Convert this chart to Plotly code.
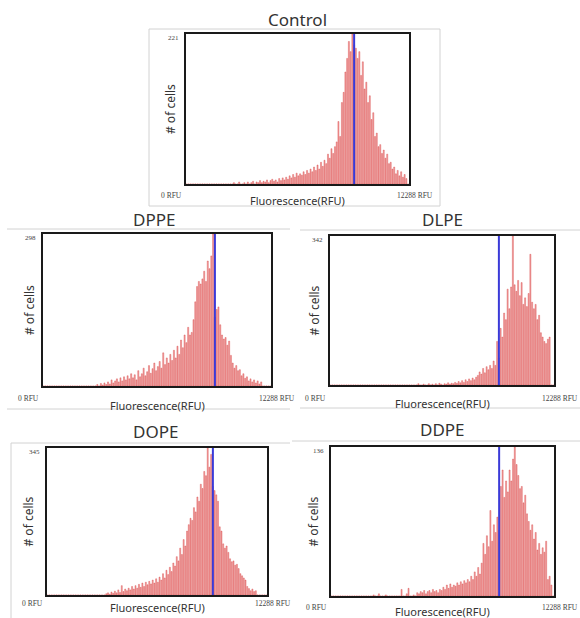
import plotly.graph_objects as go

# Flow-cytometry fluorescence histograms, 128 bins spanning 0-12288 RFU
RFU_MAX = 12288
N_BINS = 128
BIN_WIDTH = RFU_MAX / N_BINS
GATE_RFU = 9265

panel_names = ["Control", "DPPE", "DLPE", "DOPE", "DDPE"]
y_max = [221, 298, 342, 345, 136]
x_tick_labels = ["0 RFU", "12288 RFU"]

control = [
    0, 0, 0, 0, 0, 0, 0, 0, 0, 0, 0, 0, 0, 0, 0, 0,
    0, 0, 0, 0, 0, 0, 0, 0, 0, 0, 0, 2, 0, 0, 3, 0,
    0, 2, 0, 3, 0, 2, 4, 0, 3, 2, 5, 2, 4, 3, 6, 2,
    5, 7, 4, 6, 3, 8, 5, 9, 6, 10, 7, 12, 9, 14, 10, 16,
    12, 15, 13, 18, 14, 20, 16, 22, 18, 25, 20, 28, 22, 32, 26, 35,
    30, 44, 38, 52, 45, 55, 62, 92, 70, 120, 135, 165, 185, 210, 195, 221,
    205, 200, 185, 195, 160, 180, 140, 150, 120, 130, 95, 105, 70, 75, 55, 58,
    45, 50, 38, 44, 30, 32, 22, 25, 15, 20, 12, 18, 10, 14, 8, 0,
]
dppe = [
    0, 0, 0, 0, 0, 0, 0, 0, 0, 0, 0, 0, 0, 0, 0, 0,
    0, 0, 0, 0, 0, 0, 0, 0, 0, 0, 0, 0, 0, 0, 3, 0,
    5, 2, 6, 3, 8, 4, 12, 6, 10, 14, 8, 16, 10, 18, 12, 20,
    14, 24, 16, 22, 12, 30, 18, 24, 35, 20, 28, 40, 25, 34, 45, 30,
    38, 48, 35, 65, 42, 55, 45, 62, 50, 70, 55, 78, 62, 90, 75, 100,
    85, 115, 100, 105, 130, 165, 195, 205, 200, 210, 225, 205, 245, 230, 255, 298,
    135, 150, 155, 120, 100, 92, 95, 80, 88, 60, 45, 35, 40, 30, 32, 20,
    24, 15, 18, 10, 14, 8, 12, 6, 10, 4, 8, 0, 0, 0, 0, 0,
]
dlpe = [
    0, 0, 0, 0, 0, 0, 0, 0, 0, 0, 0, 0, 0, 0, 0, 0,
    0, 0, 0, 0, 0, 0, 0, 0, 0, 0, 0, 0, 0, 0, 0, 0,
    0, 0, 0, 0, 0, 0, 0, 0, 0, 0, 0, 0, 0, 0, 0, 0,
    0, 0, 3, 0, 0, 2, 0, 0, 3, 0, 2, 0, 3, 0, 4, 2,
    0, 3, 2, 5, 2, 4, 3, 6, 4, 8, 5, 10, 6, 12, 8, 14,
    10, 16, 12, 18, 22, 30, 25, 38, 28, 42, 35, 45, 38, 55, 45, 100,
    62, 130, 110, 165, 150, 220, 175, 225, 342, 230, 215, 240, 205, 235, 185, 200,
    180, 210, 300, 190, 175, 185, 150, 160, 120, 110, 100, 95, 105, 110, 0, 0,
]
dope = [
    0, 0, 0, 0, 0, 0, 0, 0, 0, 0, 0, 0, 0, 0, 0, 0,
    0, 0, 0, 0, 0, 0, 0, 0, 0, 0, 0, 0, 0, 0, 0, 0,
    0, 0, 3, 5, 2, 7, 4, 9, 5, 12, 6, 22, 8, 14, 10, 16,
    12, 20, 14, 22, 16, 25, 18, 28, 20, 30, 24, 32, 26, 35, 28, 38,
    30, 42, 35, 50, 40, 58, 48, 65, 55, 75, 68, 90, 80, 110, 95, 130,
    115, 150, 165, 180, 175, 205, 195, 230, 220, 260, 250, 290, 280, 345, 300, 330,
    255, 245, 235, 220, 160, 150, 120, 110, 115, 100, 85, 78, 80, 70, 72, 62,
    50, 45, 40, 35, 20, 15, 10, 14, 8, 10, 0, 0, 0, 0, 0, 0,
]
ddpe = [
    0, 0, 0, 0, 0, 0, 0, 0, 0, 0, 0, 0, 0, 0, 0, 0,
    0, 0, 0, 0, 0, 0, 0, 0, 1, 0, 0, 2, 0, 0, 0, 1,
    0, 0, 0, 0, 0, 0, 0, 0, 6, 0, 0, 2, 7, 0, 0, 1,
    0, 3, 2, 4, 3, 5, 2, 4, 5, 3, 6, 4, 5, 3, 6, 5,
    8, 6, 10, 7, 11, 8, 10, 9, 12, 10, 13, 11, 14, 12, 15, 13,
    18, 15, 22, 18, 26, 20, 30, 48, 38, 55, 45, 78, 50, 65, 58, 72,
    60, 100, 115, 90, 105, 95, 115, 105, 125, 136, 120, 110, 98, 100, 85, 92,
    75, 68, 60, 65, 52, 58, 42, 48, 38, 44, 40, 50, 15, 18, 10, 0,
]
counts = [control, dppe, dlpe, dope, ddpe]

# Page geometry in pixels
W, H = 580, 618
# plot box (left, top, right, bottom), title centre, label offsets
layout_px = [
    dict(box=(186, 34, 409, 184), title=(297, 19), xl=16, yl=16, rfu=11),
    dict(box=(43, 234, 271, 386), title=(154, 219), xl=19, yl=14, rfu=12),
    dict(box=(330, 236, 554, 385), title=(442, 219), xl=18, yl=16, rfu=13),
    dict(box=(47, 448, 267, 595), title=(155, 431), xl=12, yl=19, rfu=8),
    dict(box=(331, 447, 554, 596), title=(442, 430), xl=15, yl=18, rfu=11),
]
# faint screenshot frame lines (x0, y0, x1, y1)
frame_lines = [
    (149, 29, 440, 29), (149, 29, 149, 206), (149, 206, 440, 206), (440, 29, 440, 206),
    (7, 229, 290, 229), (7, 409, 290, 409),
    (300, 230, 580, 230), (300, 408, 580, 408),
    (11, 443, 290, 443), (11, 443, 11, 618),
    (292, 441, 580, 441),
]


def px(x):
    return x / W


def py(y):
    return 1 - y / H


LABEL_FONT = "Noto Sans"
SMALL_FONT = "Liberation Serif"
BAR_FILL = "rgba(238,128,128,0.75)"
BAR_EDGE = "rgba(214,70,70,0.8)"

fig = go.Figure()
bin_centres = [(i + 0.5) * BIN_WIDTH for i in range(N_BINS)]
annotations = []
shapes = []

for k, (name, vals, ymax, geo) in enumerate(zip(panel_names, counts, y_max, layout_px)):
    ax = "" if k == 0 else str(k + 1)
    l, t, r, b = geo["box"]
    fig.add_trace(go.Bar(
        x=bin_centres, y=vals, width=BIN_WIDTH * 0.6,
        marker=dict(color=BAR_FILL, line=dict(color=BAR_EDGE, width=0.5)),
        xaxis="x" + ax, yaxis="y" + ax, showlegend=False, hoverinfo="x+y",
    ))
    axis_common = dict(showgrid=False, zeroline=False, showticklabels=False, ticks="",
                       showline=True, mirror=True, linecolor="#1a1a1a", linewidth=2)
    fig.update_layout(**{
        "xaxis" + ax: dict(domain=[px(l), px(r)], range=[0, RFU_MAX],
                           anchor="y" + ax, **axis_common),
        "yaxis" + ax: dict(domain=[py(b), py(t)], range=[0, ymax],
                           anchor="x" + ax, **axis_common),
    })
    xd, yd = "x" + ax + " domain", "y" + ax + " domain"
    # gate marker
    shapes.append(dict(type="line", xref="x" + ax, yref=yd, x0=GATE_RFU, x1=GATE_RFU,
                       y0=0, y1=1, line=dict(color="#3a3ad8", width=2)))
    # panel title
    tx, ty = geo["title"]
    annotations.append(dict(text=name, x=px(tx), y=py(ty), xref="paper", yref="paper",
                            xanchor="center", yanchor="middle", showarrow=False,
                            font=dict(family=LABEL_FONT, size=17, color="#333")))
    # axis titles
    annotations.append(dict(text="Fluorescence(RFU)", x=0.5, y=0, xref=xd, yref=yd,
                            xanchor="center", yanchor="middle", yshift=-geo["xl"],
                            showarrow=False, font=dict(family=LABEL_FONT, size=11, color="#333")))
    annotations.append(dict(text="# of cells", x=0, y=0.5, xref=xd, yref=yd,
                            xanchor="center", yanchor="middle", xshift=-geo["yl"],
                            textangle=-90, showarrow=False,
                            font=dict(family=LABEL_FONT, size=12, color="#333")))
    # max count and RFU range labels
    annotations.append(dict(text=str(ymax), x=0, y=1, xref=xd, yref=yd, xanchor="right",
                            yanchor="middle", xshift=-5, yshift=-4, showarrow=False,
                            font=dict(family=SMALL_FONT, size=7, color="#444")))
    annotations.append(dict(text=x_tick_labels[0], x=0, y=0, xref=xd, yref=yd, xanchor="right",
                            yanchor="middle", xshift=-2, yshift=-geo["rfu"], showarrow=False,
                            font=dict(family=SMALL_FONT, size=7.5, color="#444")))
    annotations.append(dict(text=x_tick_labels[1], x=1, y=0, xref=xd, yref=yd, xanchor="center",
                            yanchor="middle", xshift=6, yshift=-geo["rfu"], showarrow=False,
                            font=dict(family=SMALL_FONT, size=7.5, color="#444")))

for x0, y0, x1, y1 in frame_lines:
    shapes.append(dict(type="line", xref="paper", yref="paper", x0=px(x0), y0=py(y0),
                       x1=px(x1), y1=py(y1), line=dict(color="#d2d2d2", width=1), layer="below"))

fig.update_layout(
    width=W, height=H, margin=dict(l=0, r=0, t=0, b=0),
    paper_bgcolor="white", plot_bgcolor="white",
    bargap=0.3, annotations=annotations, shapes=shapes,
)

fig.write_html("out.html")
